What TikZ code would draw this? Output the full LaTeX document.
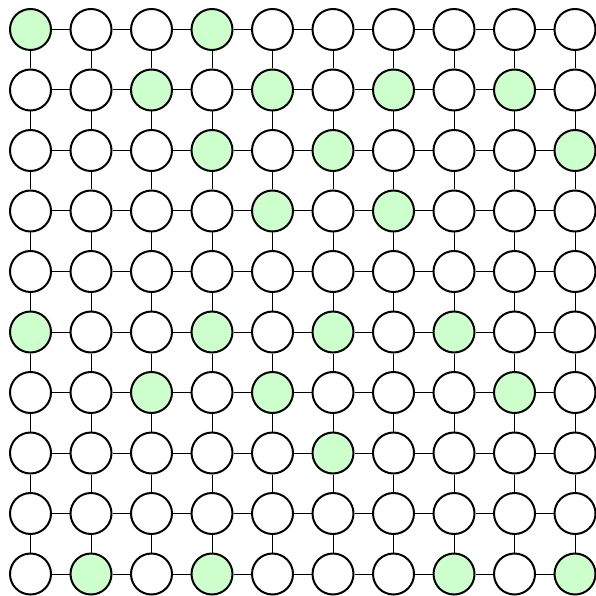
\documentclass[tikz,border=0pt]{standalone}
\definecolor{cellgreen}{HTML}{CCFFCC}
\tikzset{
  cell/.style={circle, draw=black, line width=2pt, minimum size=41pt, inner sep=0pt, fill=white},
  link/.style={draw=black, line width=1pt},
  on/.style={fill=cellgreen},
  g0-0/.style=on, g0-3/.style=on,
  g1-2/.style=on, g1-4/.style=on, g1-6/.style=on, g1-8/.style=on,
  g2-3/.style=on, g2-5/.style=on, g2-9/.style=on,
  g3-4/.style=on, g3-6/.style=on,
  g5-0/.style=on, g5-3/.style=on, g5-5/.style=on, g5-7/.style=on,
  g6-2/.style=on, g6-4/.style=on, g6-8/.style=on,
  g7-5/.style=on,
  g9-1/.style=on, g9-3/.style=on, g9-7/.style=on, g9-9/.style=on
}
\begin{document}
\begin{tikzpicture}[x=1pt,y=1pt]
\useasboundingbox (0,0) rectangle (596,595);
\foreach \r in {0,...,9}{
  \foreach \c in {0,...,9}{
    \pgfmathsetmacro{\xx}{30.5+60.5*\c}
    \pgfmathsetmacro{\yy}{595-29.5-60.5*\r}
    \node[cell, g\r-\c/.try] (n-\r-\c) at (\xx,\yy) {};
  }
}
\foreach \r in {0,...,9}{
  \foreach \c [evaluate=\c as \cc using int(\c+1)] in {0,...,8}{
    \draw[link] (n-\r-\c) -- (n-\r-\cc);
    \draw[link] (n-\c-\r) -- (n-\cc-\r);
  }
}
\end{tikzpicture}
\end{document}
